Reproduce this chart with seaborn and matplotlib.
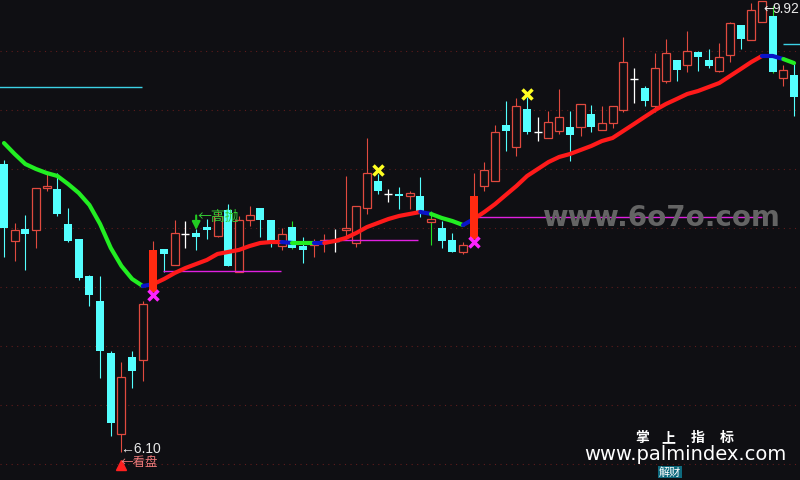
import matplotlib
matplotlib.use("Agg")
import numpy as np
import pandas as pd
import seaborn as sns
from matplotlib import pyplot as plt

# daily candles (price)
opens = [8.54, 7.89, 7.99, 7.98, 8.34, 8.33, 8.03, 7.91, 7.59, 7.38,
         6.94, 6.25, 6.91, 6.88, 7.46, 7.82, 7.69, 7.95, 7.96, 8.01,
         7.93, 8.15, 7.63, 8.07, 8.17, 8.07, 7.85, 8.01, 7.85, 7.86,
         7.88, 7.89, 7.98, 7.87, 8.17, 8.40, 8.29, 8.29, 8.27, 8.27,
         8.05, 8.00, 7.90, 7.80, 7.91, 8.36, 8.40, 8.87, 8.69, 9.01,
         8.81, 8.76, 8.82, 8.86, 8.86, 8.97, 8.83, 8.89, 9.00, 9.26,
         9.19, 9.03, 9.25, 9.42, 9.38, 9.49, 9.42, 9.33, 9.47, 9.72,
         9.59, 9.75, 9.80, 9.27, 9.30]
highs = [8.58, 8.04, 8.11, 8.34, 8.46, 8.47, 8.17, 7.91, 7.60, 7.59,
         6.96, 6.86, 6.96, 7.38, 7.89, 7.82, 8.07, 8.06, 7.99, 8.08,
         8.14, 8.20, 8.10, 8.19, 8.17, 8.07, 8.00, 8.06, 7.92, 7.91,
         7.95, 7.99, 8.44, 8.19, 8.76, 8.46, 8.33, 8.35, 8.31, 8.43,
         8.14, 8.06, 7.96, 7.88, 8.47, 8.56, 8.87, 9.08, 9.10, 9.11,
         8.94, 8.99, 9.18, 8.99, 9.05, 9.04, 9.03, 9.03, 9.62, 9.36,
         9.20, 9.48, 9.60, 9.42, 9.67, 9.50, 9.52, 9.57, 9.75, 9.72,
         9.91, 9.92, 9.88, 9.38, 9.39]
lows = [7.75, 7.72, 7.64, 7.83, 8.31, 8.10, 7.88, 7.56, 7.34, 6.73,
        6.24, 6.10, 6.64, 6.70, 7.46, 7.63, 7.69, 7.83, 7.81, 7.91,
        7.92, 7.68, 7.63, 8.02, 7.92, 7.84, 7.81, 7.82, 7.70, 7.75,
        7.80, 7.80, 7.91, 7.84, 8.12, 8.29, 8.22, 8.16, 8.16, 8.09,
        7.86, 7.83, 7.80, 7.78, 7.91, 8.31, 8.40, 8.65, 8.61, 8.80,
        8.74, 8.76, 8.80, 8.57, 8.78, 8.81, 8.83, 8.85, 8.98, 9.06,
        9.03, 8.98, 9.23, 9.25, 9.32, 9.33, 9.36, 9.32, 9.41, 9.52,
        9.59, 9.75, 9.31, 9.20, 8.95]
closes = [8.00, 7.98, 7.95, 8.34, 8.36, 8.12, 7.89, 7.58, 7.43, 6.96,
          6.35, 6.74, 6.79, 7.36, 7.81, 7.78, 7.96, 7.95, 7.92, 7.98,
          8.10, 7.68, 8.07, 8.11, 8.07, 7.89, 7.95, 7.83, 7.81, 7.87,
          7.90, 7.89, 8.00, 8.19, 8.47, 8.31, 8.29, 8.27, 8.30, 8.14,
          8.08, 7.89, 7.80, 7.86, 8.27, 8.49, 8.81, 8.82, 9.03, 8.81,
          8.81, 8.90, 8.94, 8.79, 9.05, 8.86, 8.89, 9.03, 9.41, 9.26,
          9.08, 9.36, 9.48, 9.34, 9.50, 9.45, 9.37, 9.45, 9.74, 9.60,
          9.85, 9.92, 9.32, 9.34, 9.11]

# moving average and its trend colour per segment (g down, r up, b flat)
ma = [8.720, 8.627, 8.542, 8.500, 8.466, 8.441, 8.373, 8.297, 8.195, 8.034,
      7.831, 7.678, 7.568, 7.508, 7.525, 7.568, 7.619, 7.661, 7.695, 7.729,
      7.780, 7.797, 7.814, 7.847, 7.873, 7.881, 7.881, 7.873, 7.873, 7.873,
      7.873, 7.890, 7.915, 7.958, 8.008, 8.042, 8.076, 8.102, 8.119, 8.136,
      8.119, 8.085, 8.059, 8.025, 8.076, 8.136, 8.203, 8.280, 8.356, 8.441,
      8.500, 8.559, 8.602, 8.627, 8.661, 8.695, 8.737, 8.763, 8.822, 8.881,
      8.941, 9.000, 9.051, 9.093, 9.136, 9.161, 9.195, 9.229, 9.288, 9.347,
      9.407, 9.458, 9.458, 9.432, 9.398]
ma_trend = "g" * 13 + "b" + "r" * 12 + "b" + "g" * 2 + "b" + "r" * 9 + "b" + "g" * 3 + "b" + "r" * 27 + "b" * 2 + "g"

signal_bars = [14, 44]
green_wicks = [27, 40, 72]
sell_marks = [35, 49]
sell_levels = [8.49, 9.14]
buy_levels = [7.43, 7.88]
grid_levels = [6.0, 6.5, 7.0, 7.5, 8.0, 8.5, 9.0, 9.5]

# support / resistance lines: (start, end, level)
magenta_lines = [(14.9, 25.9, 7.636), (29.9, 38.8, 7.898), (44.4, 71.0, 8.093)]
cyan_lines = [(-0.5, 12.9, 9.195), (73.0, 75.0, 9.559)]

BG = "#0f0f13"
UP = "#e04a3f"
DOWN = "#54ffff"
SIG = "#ff2a10"
trend_colors = {"g": "#22ee22", "r": "#ff1a1a", "b": "#0a14c8"}

sns.set_style("dark", rc={"axes.facecolor": BG, "figure.facecolor": BG})
plt.rcParams['font.family'] = ['DejaVu Sans', 'Noto Sans CJK SC']
cjk = ['Noto Sans CJK SC', 'DejaVu Sans']

fig = plt.figure(figsize=(8, 4.81), dpi=100)
ax = fig.add_axes([0, 0, 1, 1])
ax.set_facecolor(BG)

for lvl in grid_levels:
    ax.axhline(lvl, color="#5e1c1c", lw=0.8, ls=(0, (1, 4)), zorder=0)

fig.text(661 / 800, 1 - 218 / 481, "www.6o7o.com", color="#646464", fontsize=20,
         fontweight="bold", ha="center", va="center", zorder=1)

w = 0.75
for i in range(len(opens)):
    o, h, l, c = opens[i], highs[i], lows[i], closes[i]
    lo, hi = min(o, c), max(o, c)
    if i in signal_bars:
        ax.vlines(i, l, h, color=UP, lw=0.8, zorder=2)
        ax.bar(i, hi - lo, bottom=lo, width=w, color=SIG, lw=0, zorder=5)
    elif o == c:
        ax.vlines(i, l, h, color="white", lw=0.9, zorder=2)
        ax.hlines(o, i - w / 2, i + w / 2, color="white", lw=1.0, zorder=2)
    elif c > o:
        wc = "#22dd22" if i in green_wicks else UP
        ax.vlines(i, l, lo, color=wc, lw=0.8, zorder=2)
        ax.vlines(i, hi, h, color=wc, lw=0.8, zorder=2)
        ax.bar(i, max(hi - lo, 0.01), bottom=lo, width=w, facecolor=BG,
               edgecolor=UP, lw=0.9, zorder=2)
    else:
        wc = "#22dd22" if i in green_wicks else DOWN
        ax.vlines(i, l, h, color=wc, lw=0.8, zorder=2)
        ax.bar(i, max(hi - lo, 0.01), bottom=lo, width=w, color=DOWN, lw=0, zorder=2)

for x0, x1, y in magenta_lines:
    ax.hlines(y, x0, x1, color="#e020e0", lw=1.0, zorder=3)
for x0, x1, y in cyan_lines:
    ax.hlines(y, x0, x1, color="#3cd2e6", lw=1.0, zorder=3)

# moving average, drawn in runs of the same trend colour
df = pd.DataFrame({"i": np.arange(len(ma)), "ma": ma})
start = 0
for k in range(1, len(ma_trend) + 1):
    if k == len(ma_trend) or ma_trend[k] != ma_trend[start]:
        seg = df.iloc[start:k + 1]
        sns.lineplot(data=seg, x="i", y="ma", color=trend_colors[ma_trend[start]],
                     lw=3, ax=ax, legend=False, sort=False, zorder=4,
                     solid_capstyle="round")
        start = k

ax.plot(signal_bars, buy_levels, ls="none", marker="x", ms=7, mew=2.5, color="#ff22ff", zorder=6)
ax.plot(sell_marks, sell_levels, ls="none", marker="x", ms=7, mew=2.5, color="#ffff22", zorder=6)
ax.plot([11], [5.995], ls="none", marker="^", ms=7, color="#ff2020", zorder=6)

ax.annotate("", xy=(18, 7.96), xytext=(18, 8.13),
            arrowprops=dict(arrowstyle="-|>", color="#22cc22", lw=1.5, mutation_scale=12), zorder=6)
ax.text(18.1, 8.10, "←高抛", color="#33cc33", fontsize=10, va="center", ha="left", zorder=6,
        family=cjk)
ax.text(10.9, 6.02, "←看盘", color="#f07a7a", fontsize=9, va="center", ha="left", zorder=6,
        family=cjk)
ax.text(10.9, 6.135, "←6.10", color="#e8e8e8", fontsize=10, va="center", ha="left", zorder=7,
        family="Liberation Sans")
ax.text(71.1, 9.86, "←", color="#e8e8e8", fontsize=9, va="center", ha="left", zorder=7)
fig.text(799 / 800, 1 - 9 / 481, "9.92", color="#e8e8e8", fontsize=10, va="center", ha="right",
         zorder=7, family="Liberation Sans")

for ch, px in zip("掌上指标", [642, 668, 698, 727]):
    fig.text(px / 800, 1 - 438 / 481, ch, color="white", fontsize=10, fontweight="bold",
             ha="center", va="center", family=cjk)
fig.text(685 / 800, 1 - 455 / 481, "www.palmindex.com", color="white", fontsize=14,
         ha="center", va="center")
fig.text(670 / 800, 1 - 473 / 481, "解财", color="white", fontsize=8, ha="center", va="center",
         family=cjk, bbox=dict(boxstyle="square,pad=0.1", fc="#0e6a7e", ec="none"))

ax.set_xlim(-0.375, 74.56)
ax.set_ylim(5.864, 9.941)
ax.set_xticks([])
ax.set_yticks([])
ax.set_xlabel("")
ax.set_ylabel("")
for s in ax.spines.values():
    s.set_visible(False)

fig.savefig("out.png", dpi=100, facecolor=BG)
